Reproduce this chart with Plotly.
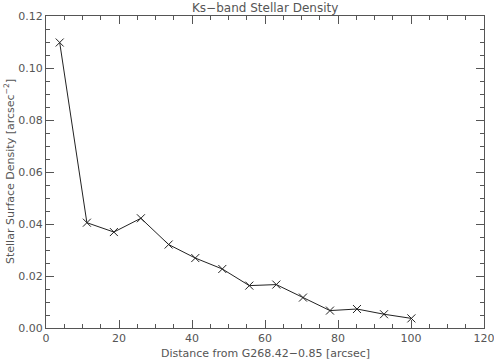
import plotly.graph_objects as go

distance = [3.75, 11.2, 18.6, 26.0, 33.6, 40.9, 48.3, 55.7, 63.1, 70.4, 77.8, 85.2, 92.6, 100.1]
density = [0.1098, 0.0405, 0.0369, 0.0422, 0.0321, 0.0269, 0.0227, 0.0163, 0.0167, 0.0117, 0.0067, 0.0073, 0.0053, 0.0037]

x_title = "Distance from G268.42\u22120.85 [arcsec]"
y_title = "Stellar Surface Density [arcsec<sup>\u22122</sup>]"
main_title = "Ks\u2212band Stellar Density"

font_fam = "DejaVu Sans"
gray = "#555555"

fig = go.Figure(go.Scatter(
    x=distance, y=density, mode="lines+markers",
    line=dict(color="#222222", width=1),
    marker=dict(symbol="x-thin", size=8, line=dict(color="#222222", width=1)),
))

axis_common = dict(
    showgrid=False, zeroline=False, showline=True, linecolor=gray, linewidth=1,
    mirror="ticks", ticks="inside", ticklen=8, tickcolor=gray, tickwidth=1,
    tickfont=dict(family=font_fam, size=11, color=gray), automargin=False,
    ticklabeloverflow="allow",
)

fig.update_layout(
    width=494, height=360,
    margin=dict(l=46, r=10, t=16, b=32),
    paper_bgcolor="white", plot_bgcolor="white",
    showlegend=False,
    xaxis=dict(range=[0, 120], dtick=20, tick0=0,
               minor=dict(dtick=5, ticks="inside", ticklen=4, tickcolor=gray),
               **axis_common),
    yaxis=dict(range=[0, 0.12], dtick=0.02, tick0=0, tickformat=".2f",
               minor=dict(dtick=0.005, ticks="inside", ticklen=4, tickcolor=gray),
               **axis_common),
    annotations=[
        dict(text=main_title, xref="paper", yref="paper", x=0.5, y=(360 - 32 - 8) / 312,
             xanchor="center", yanchor="middle", showarrow=False,
             font=dict(family=font_fam, size=12, color=gray)),
        dict(text=x_title, xref="paper", yref="paper", x=0.5, y=(328 - 353) / 312,
             xanchor="center", yanchor="middle", showarrow=False,
             font=dict(family=font_fam, size=11, color=gray)),
        dict(text=y_title, xref="paper", yref="paper", x=(9 - 46) / 438, y=0.5,
             xanchor="center", yanchor="middle", showarrow=False, textangle=-90,
             font=dict(family=font_fam, size=11, color=gray)),
    ],
)

fig.write_html("out.html", config={"displayModeBar": False},
               post_script="document.body.style.margin='0';document.body.style.overflow='hidden';")
